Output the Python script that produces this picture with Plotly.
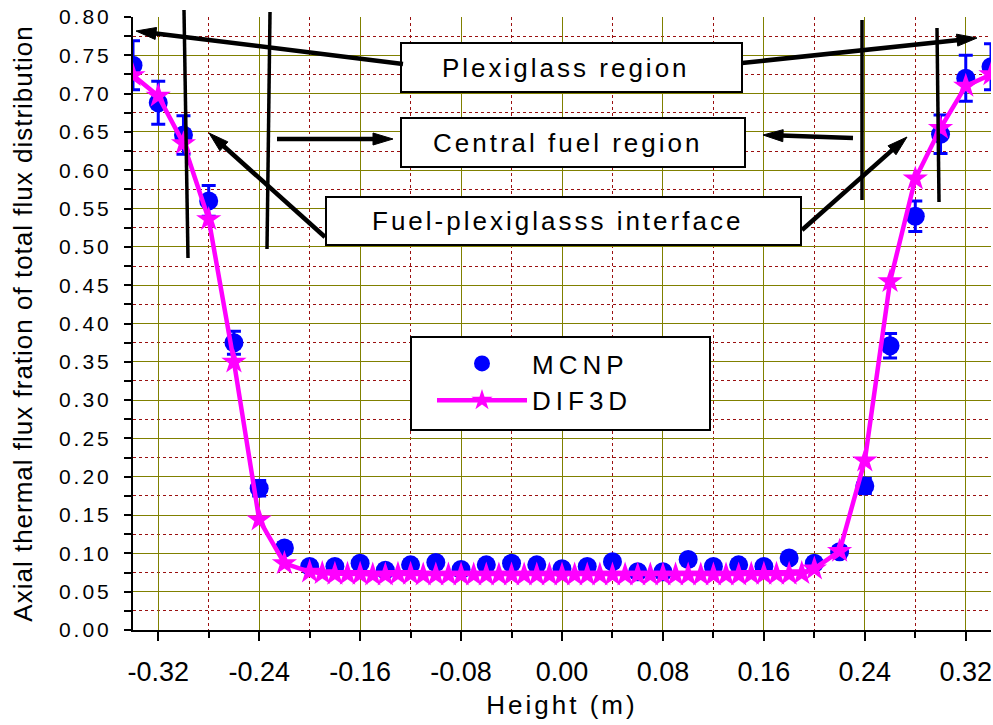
import math
import plotly.graph_objects as go

# MCNP axial thermal flux fraction (with statistical error) vs height
mcnp_height = [-0.34, -0.32, -0.30, -0.28, -0.26, -0.24, -0.22, -0.20, -0.18, -0.16,
               -0.14, -0.12, -0.10, -0.08, -0.06, -0.04, -0.02, 0.00, 0.02, 0.04,
               0.06, 0.08, 0.10, 0.12, 0.14, 0.16, 0.18, 0.20, 0.22, 0.24,
               0.26, 0.28, 0.30, 0.32, 0.34]
mcnp_flux = [0.737, 0.688, 0.646, 0.560, 0.375, 0.185, 0.107, 0.083, 0.083, 0.087,
             0.078, 0.085, 0.088, 0.079, 0.085, 0.087, 0.085, 0.080, 0.083, 0.089,
             0.076, 0.076, 0.092, 0.083, 0.085, 0.083, 0.094, 0.087, 0.102, 0.188,
             0.371, 0.540, 0.647, 0.720, 0.735]
mcnp_err = [0.032, 0.028, 0.025, 0.020, 0.015, 0.010, 0.007, 0.006, 0.006, 0.006,
            0.006, 0.006, 0.006, 0.006, 0.006, 0.006, 0.006, 0.006, 0.006, 0.006,
            0.006, 0.006, 0.006, 0.006, 0.006, 0.006, 0.006, 0.006, 0.007, 0.010,
            0.016, 0.020, 0.025, 0.030, 0.030]

# DIF3D diffusion result (finer mesh across the central fuel region)
dif_height = [-0.34, -0.32, -0.30, -0.28, -0.26, -0.24, -0.22,
              -0.20, -0.19, -0.18, -0.17, -0.16, -0.15, -0.14, -0.13, -0.12, -0.11,
              -0.10, -0.09, -0.08, -0.07, -0.06, -0.05, -0.04, -0.03, -0.02, -0.01,
              0.00, 0.01, 0.02, 0.03, 0.04, 0.05, 0.06, 0.07, 0.08, 0.09,
              0.10, 0.11, 0.12, 0.13, 0.14, 0.15, 0.16, 0.17, 0.18, 0.19, 0.20,
              0.22, 0.24, 0.26, 0.28, 0.30, 0.32, 0.34]
dif_flux = [0.724, 0.697, 0.635, 0.536, 0.350, 0.144, 0.087,
            0.076, 0.074, 0.073, 0.073, 0.073, 0.072, 0.072, 0.073, 0.073, 0.072,
            0.072, 0.072, 0.072, 0.072, 0.072, 0.072, 0.072, 0.072, 0.072, 0.072,
            0.072, 0.072, 0.072, 0.072, 0.072, 0.072, 0.072, 0.072, 0.072, 0.072,
            0.072, 0.072, 0.072, 0.072, 0.072, 0.073, 0.073, 0.073, 0.073, 0.074, 0.080,
            0.103, 0.221, 0.455, 0.589, 0.655, 0.710, 0.725]

x_tickvals = [-0.32, -0.24, -0.16, -0.08, 0.00, 0.08, 0.16, 0.24, 0.32]
x_ticktext = ["-0.32", "-0.24", "-0.16", "-0.08", "0.00", "0.08", "0.16", "0.24", "0.32"]
y_tickvals = [0.00, 0.05, 0.10, 0.15, 0.20, 0.25, 0.30, 0.35, 0.40,
              0.45, 0.50, 0.55, 0.60, 0.65, 0.70, 0.75, 0.80]
y_ticktext = ["0.00", "0.05", "0.10", "0.15", "0.20", "0.25", "0.30", "0.35", "0.40",
              "0.45", "0.50", "0.55", "0.60", "0.65", "0.70", "0.75", "0.80"]

W, H = 993, 725
ML, MR, MT, MB = 133, 2, 17, 95
PW, PH = W - ML - MR, H - MT - MB


def pxx(p):
    return (p - ML) / PW


def pxy(p):
    return (H - MB - p) / PH


def spaced(s, sp=2):
    return f'<span style="letter-spacing:{sp}px">{s}</span>'


FONT = "Liberation Sans, Arial, sans-serif"
OLIVE = "#808000"
DOTRED = "#9a1010"

fig = go.Figure()
fig.add_trace(go.Scatter(
    x=mcnp_height, y=mcnp_flux, name=spaced("MCNP", 5), mode="markers",
    marker=dict(symbol="circle", size=19, color="#0000ff"),
    error_y=dict(type="data", array=mcnp_err, color="#0000ff", thickness=3, width=7),
))
fig.add_trace(go.Scatter(
    x=dif_height, y=dif_flux, name=spaced("DIF3D", 5), mode="lines+markers",
    line=dict(color="#ff00ff", width=4.5),
    marker=dict(symbol="star", size=19, color="#ff00ff"),
))

shapes = []
annotations = []

# region boundary lines
for (x0, y0, x1, y1) in [(184, 10, 188, 258), (270, 12, 267, 249),
                         (862, 20, 862, 200), (937, 28, 939, 202)]:
    shapes.append(dict(type="line", xref="paper", yref="paper",
                       x0=pxx(x0), y0=pxy(y0), x1=pxx(x1), y1=pxy(y1),
                       line=dict(color="black", width=3.5), layer="above"))

# callout boxes
boxes = [((401, 43, 742, 92), "Plexiglass region"),
         ((401, 118, 745, 167), "Central fuel region"),
         ((326, 197, 801, 245), "Fuel-plexiglasss interface")]
for (x0, y0, x1, y1), txt in boxes:
    shapes.append(dict(type="rect", xref="paper", yref="paper",
                       x0=pxx(x0), y0=pxy(y0), x1=pxx(x1), y1=pxy(y1),
                       line=dict(color="black", width=2), fillcolor="white", layer="above"))
    annotations.append(dict(xref="paper", yref="paper", x=pxx((x0 + x1) / 2 - 6), y=pxy((y0 + y1) / 2),
                            text=spaced(txt, 3), showarrow=False,
                            font=dict(family=FONT, size=26, color="black"),
                            xanchor="center", yanchor="middle"))

# legend frame
shapes.append(dict(type="rect", xref="paper", yref="paper",
                   x0=pxx(411), y0=pxy(337), x1=pxx(710), y1=pxy(430),
                   line=dict(color="black", width=2), fillcolor="white", layer="above"))

# arrows: (tip, tail) in pixels; shaft as a line, head as a slim filled triangle
HEAD_L, HEAD_W = 20, 6
arrows = [((136, 31), (403, 64)), ((977, 38), (742, 63)),
          ((393, 139), (277, 139)), ((763, 135), (853, 138)),
          ((209, 133), (325, 237)), ((907, 137), (802, 230))]
for (tx, ty), (sx, sy) in arrows:
    dx, dy = tx - sx, ty - sy
    n = math.hypot(dx, dy)
    ux, uy = dx / n, dy / n
    bx, by = tx - HEAD_L * ux, ty - HEAD_L * uy
    shapes.append(dict(type="line", xref="paper", yref="paper",
                       x0=pxx(sx), y0=pxy(sy), x1=pxx(bx + 2 * ux), y1=pxy(by + 2 * uy),
                       line=dict(color="black", width=4.5), layer="above"))
    p1 = (bx - HEAD_W * uy, by + HEAD_W * ux)
    p2 = (bx + HEAD_W * uy, by - HEAD_W * ux)
    path = (f"M {pxx(tx)},{pxy(ty)} L {pxx(p1[0])},{pxy(p1[1])} "
            f"L {pxx(p2[0])},{pxy(p2[1])} Z")
    shapes.append(dict(type="path", xref="paper", yref="paper", path=path,
                       fillcolor="black", line=dict(color="black", width=1), layer="above"))

fig.update_layout(
    width=W, height=H,
    margin=dict(l=ML, r=MR, t=MT, b=MB, autoexpand=False),
    paper_bgcolor="white", plot_bgcolor="white",
    font=dict(family=FONT, color="black"),
    shapes=shapes, annotations=annotations,
    showlegend=True,
    legend=dict(x=pxx(432), y=pxy(340), xanchor="left", yanchor="top",
                bgcolor="rgba(0,0,0,0)", borderwidth=0, itemwidth=90,
                font=dict(family=FONT, size=26, color="black"),
                tracegroupgap=0),
)

fig.update_xaxes(
    range=[-0.34, 0.34], tickvals=x_tickvals, ticktext=x_ticktext, automargin=False,
    showline=True, linecolor="black", linewidth=2, zeroline=False,
    ticks="outside", ticklen=9, tickwidth=2, tickcolor="black",
    ticklabelstandoff=8,
    tickfont=dict(family="Liberation Sans Narrow, " + FONT, size=27),
    showgrid=True, gridcolor=OLIVE, gridwidth=1,
    minor=dict(dtick=0.04, tick0=0, ticks="outside", ticklen=6, tickwidth=2, tickcolor="black",
               showgrid=True, gridcolor=DOTRED, griddash="dot", gridwidth=1),
    title=dict(text=spaced("Height (m)", 3), font=dict(family=FONT, size=26), standoff=9),
)
fig.update_yaxes(
    range=[0, 0.8], tickvals=y_tickvals, ticktext=[spaced(t, 3) for t in y_ticktext],
    automargin=False,
    showline=True, linecolor="black", linewidth=2, zeroline=False,
    ticks="outside", ticklen=7, tickwidth=2, tickcolor="black",
    ticklabelstandoff=8,
    tickfont=dict(family=FONT, size=21),
    showgrid=True, gridcolor=OLIVE, gridwidth=1,
    minor=dict(dtick=0.025, tick0=0, ticks="outside", ticklen=7, tickwidth=2, tickcolor="black",
               showgrid=True, gridcolor=DOTRED, griddash="dot", gridwidth=1),
    title=dict(text=spaced("Axial thermal flux fration of total flux distribution", 1),
               font=dict(family=FONT, size=26), standoff=19),
)

fig.write_html("out.html")
